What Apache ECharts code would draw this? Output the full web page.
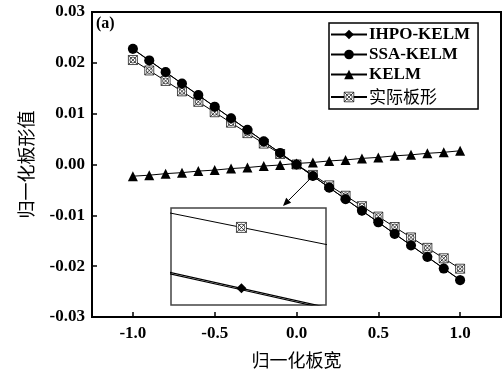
<!DOCTYPE html>
<html>
<head>
<meta charset="utf-8">
<script src="https://cdn.jsdelivr.net/npm/echarts@6/dist/echarts.min.js"></script>
<style>
  html, body { margin: 0; padding: 0; background: #fff; }
  #chart { width: 502px; height: 374px; }
</style>
</head>
<body>
<div id="chart"></div>
<script>
// Normalised strip width positions
const widths = [-1.0, -0.9, -0.8, -0.7, -0.6, -0.5, -0.4, -0.3, -0.2, -0.1, 0.0,
                 0.1, 0.2, 0.3, 0.4, 0.5, 0.6, 0.7, 0.8, 0.9, 1.0];

// Normalised flatness profiles
const ihpoKelm = [0.02270, 0.02043, 0.01816, 0.01589, 0.01362, 0.01135, 0.00908, 0.00681, 0.00454, 0.00227, 0.00000,
                  -0.00227, -0.00454, -0.00681, -0.00908, -0.01135, -0.01362, -0.01589, -0.01816, -0.02043, -0.02270];
const ssaKelm  = [0.02275, 0.02048, 0.01820, 0.01593, 0.01365, 0.01138, 0.00910, 0.00683, 0.00455, 0.00228, 0.00000,
                  -0.002275, -0.00455, -0.00683, -0.00910, -0.01138, -0.01365, -0.01593, -0.01820, -0.02048, -0.02275];
const kelm     = [-0.0023, -0.0021, -0.0018, -0.0016, -0.0013, -0.0011, -0.0008, -0.0006, -0.0003, -0.0001, 0.0002,
                  0.0004, 0.0007, 0.0009, 0.0012, 0.0014, 0.0017, 0.0019, 0.0022, 0.0024, 0.0027];
const actual   = [0.02055, 0.01850, 0.01644, 0.01439, 0.01233, 0.01028, 0.00822, 0.00617, 0.00411, 0.00206, 0.00000,
                  -0.00205, -0.00410, -0.00615, -0.00820, -0.01025, -0.01230, -0.01435, -0.01640, -0.01845, -0.02050];

const xTicks = [-1.0, -0.5, 0.0, 0.5, 1.0];
const seriesNames = ['IHPO-KELM', 'SSA-KELM', 'KELM', '实际板形'];

// Point highlighted in the magnified view
const zoomX = 0.1;
const zoomXRange = [0.0975, 0.1030];
const zoomYRange = [-0.00233, -0.00198];

const LATIN = '"Liberation Serif", "Times New Roman", serif';
const CJK = '"Noto Sans CJK SC", sans-serif';

// square with crossed diagonals and inner circle
const crossSquare = 'path://M1,1L19,1L19,19L1,19Z M1,1L19,19 M19,1L1,19 M16,10A6,6,0,1,1,4,10A6,6,0,1,1,16,10Z';
const hollowStyle = { color: '#fff', borderColor: '#000', borderWidth: 0.7 };

const pairs = (ys) => widths.map((x, i) => [x, ys[i]]);
const onlyAt = (ys, x0) => widths.map((x, i) => ({
  value: [x, ys[i]],
  symbolSize: Math.abs(x - x0) < 1e-9 ? 10 : 0
}));

const chart = echarts.init(document.getElementById('chart'), null, { renderer: 'canvas' });

const option = {
  animation: false,
  backgroundColor: '#fff',
  grid: [
    { left: 92, top: 12, right: 1, bottom: 56, show: true, borderColor: '#000', borderWidth: 2, backgroundColor: 'transparent' },
    { left: 171, top: 208, width: 155, height: 97, show: true, borderColor: '#444', borderWidth: 1.5, backgroundColor: '#fff', z: 5 }
  ],
  xAxis: [
    {
      type: 'value', gridIndex: 0, min: -1.25, max: 1.25,
      name: '归一化板宽', nameLocation: 'middle', nameGap: 34,
      nameTextStyle: { fontFamily: CJK, fontSize: 18, color: '#000' },
      axisLine: { show: true, onZero: false, lineStyle: { color: '#000', width: 2 } },
      axisTick: { show: true, inside: true, length: 5, customValues: xTicks, lineStyle: { color: '#000', width: 1.5 } },
      axisLabel: {
        customValues: xTicks, margin: 8,
        fontFamily: LATIN, fontWeight: 'bold', fontSize: 17, color: '#000',
        formatter: (v) => v.toFixed(1)
      },
      splitLine: { show: false }
    },
    {
      type: 'value', gridIndex: 1, min: zoomXRange[0], max: zoomXRange[1], show: false,
      splitLine: { show: false }
    }
  ],
  yAxis: [
    {
      type: 'value', gridIndex: 0, min: -0.03, max: 0.03, interval: 0.01,
      name: '归一化板形值', nameLocation: 'middle', nameGap: 57, nameRotate: 90,
      nameTextStyle: { fontFamily: CJK, fontSize: 18, color: '#000' },
      axisLine: { show: true, onZero: false, lineStyle: { color: '#000', width: 2 } },
      axisTick: { show: true, inside: true, length: 5, lineStyle: { color: '#000', width: 1.5 } },
      axisLabel: {
        margin: 7, fontFamily: LATIN, fontWeight: 'bold', fontSize: 17, color: '#000',
        formatter: (v) => v.toFixed(2)
      },
      splitLine: { show: false }
    },
    {
      type: 'value', gridIndex: 1, min: zoomYRange[0], max: zoomYRange[1], show: false,
      splitLine: { show: false }
    }
  ],
  legend: {
    orient: 'vertical',
    left: 329, top: 23,
    padding: [2, 8, 0, 1],
    borderColor: '#000', borderWidth: 1.5, borderRadius: 0,
    backgroundColor: '#fff',
    itemWidth: 36, itemHeight: 12, itemGap: 1,
    data: [
      { name: 'IHPO-KELM' },
      { name: 'SSA-KELM' },
      { name: 'KELM' },
      { name: '实际板形', itemStyle: hollowStyle }
    ],
    textStyle: {
      fontFamily: LATIN, fontWeight: 'bold', fontSize: 17, lineHeight: 19, color: '#000', padding: [0, 0, 0, -3],
      rich: { cjk: { fontFamily: CJK, fontWeight: 'normal', fontSize: 17, lineHeight: 24, color: '#000' } }
    },
    formatter: (name) => /[\u4e00-\u9fff]/.test(name) ? '{cjk|' + name + '}' : name
  },
  series: [
    {
      name: '实际板形', type: 'line', xAxisIndex: 0, yAxisIndex: 0, z: 2,
      data: pairs(actual),
      symbol: crossSquare, symbolSize: 9,
      itemStyle: hollowStyle,
      lineStyle: { color: '#000', width: 1 }
    },
    {
      name: 'KELM', type: 'line', xAxisIndex: 0, yAxisIndex: 0, z: 2,
      data: pairs(kelm),
      symbol: 'triangle', symbolSize: 10,
      itemStyle: { color: '#000' },
      lineStyle: { color: '#000', width: 1 }
    },
    {
      name: 'IHPO-KELM', type: 'line', xAxisIndex: 0, yAxisIndex: 0, z: 3,
      data: pairs(ihpoKelm),
      symbol: 'diamond', symbolSize: 10,
      itemStyle: { color: '#000' },
      lineStyle: { color: '#000', width: 1 }
    },
    {
      name: 'SSA-KELM', type: 'line', xAxisIndex: 0, yAxisIndex: 0, z: 4,
      data: pairs(ssaKelm),
      symbol: 'circle', symbolSize: 10,
      itemStyle: { color: '#000' },
      lineStyle: { color: '#000', width: 1 }
    },
    // magnified view around x = 0.1
    {
      type: 'line', xAxisIndex: 1, yAxisIndex: 1, z: 6,
      data: onlyAt(actual, zoomX),
      symbol: crossSquare,
      itemStyle: hollowStyle,
      lineStyle: { color: '#000', width: 1 }, clip: true
    },
    {
      type: 'line', xAxisIndex: 1, yAxisIndex: 1, z: 6,
      data: onlyAt(ssaKelm, -9),
      symbol: 'none',
      lineStyle: { color: '#000', width: 1.2 }, clip: true
    },
    {
      type: 'line', xAxisIndex: 1, yAxisIndex: 1, z: 7,
      data: onlyAt(ihpoKelm, zoomX),
      symbol: 'diamond',
      itemStyle: { color: '#000' },
      lineStyle: { color: '#000', width: 1.2 }, clip: true
    }
  ]
};

chart.setOption(option);

// Panel tag and arrow from the highlighted point to the magnified view
const i0 = widths.indexOf(zoomX);
const start = chart.convertToPixel({ xAxisIndex: 0, yAxisIndex: 0 }, [zoomX, ssaKelm[i0]]);
const end = [283, 206];
const ang = Math.atan2(end[1] - start[1], end[0] - start[0]);
const ah = 8, aw = 3.5;
const base = [end[0] - ah * Math.cos(ang), end[1] - ah * Math.sin(ang)];
const head = [
  end,
  [base[0] + aw * Math.sin(ang), base[1] - aw * Math.cos(ang)],
  [base[0] - aw * Math.sin(ang), base[1] + aw * Math.cos(ang)]
];

chart.setOption({
  graphic: [
    {
      type: 'text', left: 96, top: 16, z: 10,
      style: { text: '(a)', font: 'bold 16px ' + LATIN, fill: '#000' }
    },
    {
      type: 'line', z: 10,
      shape: { x1: start[0], y1: start[1], x2: base[0], y2: base[1] },
      style: { stroke: '#000', lineWidth: 1 }
    },
    {
      type: 'polygon', z: 10,
      shape: { points: head },
      style: { fill: '#000' }
    }
  ]
});
</script>
</body>
</html>
